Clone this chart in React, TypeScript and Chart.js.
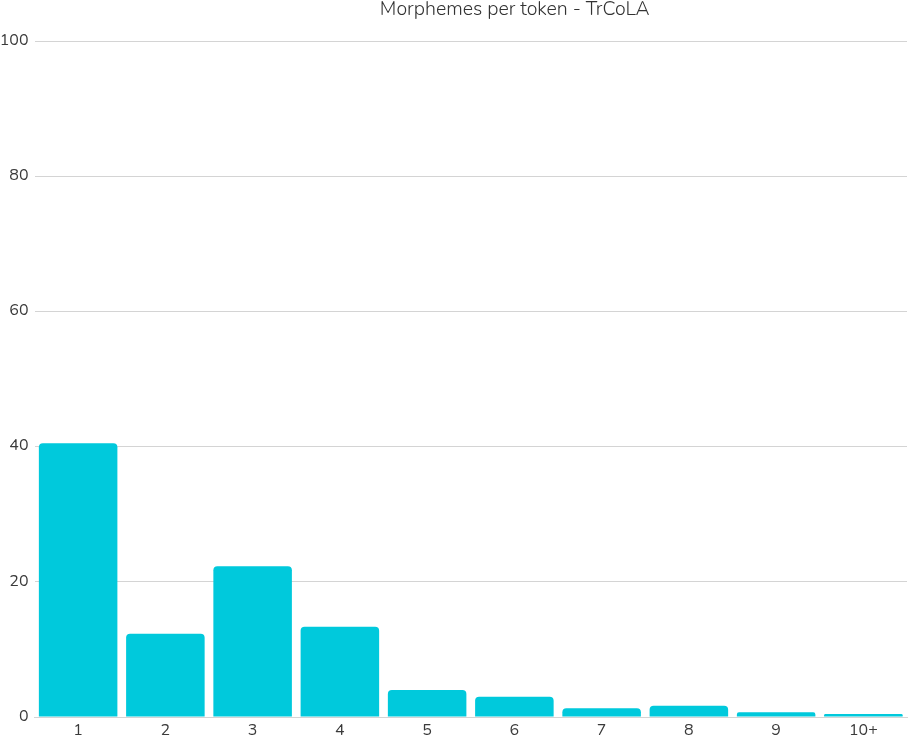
import React, { useEffect, useRef } from "react";
import { Chart, registerables } from "chart.js";

Chart.register(...registerables);

const categories = ["1", "2", "3", "4", "5", "6", "7", "8", "9", "10+"];
const values = [40.5, 12.3, 22.3, 13.35, 4.0, 3.0, 1.3, 1.65, 0.7, 0.45];
const yTicks = [0, 20, 40, 60, 80, 100];
const titleText = "Morphemes per token - TrCoLA";

const FONT = "Nunito, Lato, 'Noto Sans', sans-serif";

const titlePlugin = {
  id: "customTitle",
  afterDraw(chart: any) {
    const ctx = chart.ctx;
    const area = chart.chartArea;
    ctx.save();
    ctx.font = `300 19.5px ${FONT}`;
    ctx.fillStyle = "#333333";
    ctx.textAlign = "center";
    ctx.textBaseline = "alphabetic";
    ctx.fillText(titleText, (area.left + area.right) / 2 + 44, 15);
    ctx.restore();
  },
};

export default function App() {
  const ref = useRef<HTMLCanvasElement | null>(null);
  useEffect(() => {
    if (!ref.current) return;
    const chart = new Chart(ref.current, {
      type: "bar",
      data: {
        labels: categories,
        datasets: [
          {
            data: values,
            backgroundColor: "#00C9DC",
            borderRadius: 4,
            borderSkipped: "start",
            barPercentage: 0.9,
            categoryPercentage: 1.0,
          },
        ],
      },
      options: {
        animation: false,
        responsive: true,
        maintainAspectRatio: false,
        layout: { padding: { top: 41, right: 2, left: 0, bottom: 0 } },
        plugins: {
          legend: { display: false },
          title: { display: false },
          tooltip: { enabled: false },
        },
        scales: {
          x: {
            grid: { display: false, drawTicks: false },
            border: { display: true, color: "#d4d4d4", width: 1 },
            ticks: {
              color: "#3a3a3a",
              font: { family: FONT, size: 16 },
              padding: 5,
            },
            afterFit(axis: any) {
              axis.height = 25;
            },
          },
          y: {
            min: 0,
            max: 100,
            afterBuildTicks(axis: any) {
              axis.ticks = yTicks.map((v) => ({ value: v }));
            },
            grid: { color: "#d4d4d4", drawTicks: false },
            border: { display: false },
            ticks: {
              color: "#3a3a3a",
              font: { family: FONT, size: 16 },
              padding: 6,
            },
            afterFit(axis: any) {
              axis.width = 34.5;
            },
          },
        },
      },
      plugins: [titlePlugin],
    });
    return () => chart.destroy();
  }, []);
  return (
    <div style={{ position: "fixed", left: 0, top: 0, width: 909, height: 742, background: "#fff" }}>
      <canvas ref={ref} />
    </div>
  );
}
